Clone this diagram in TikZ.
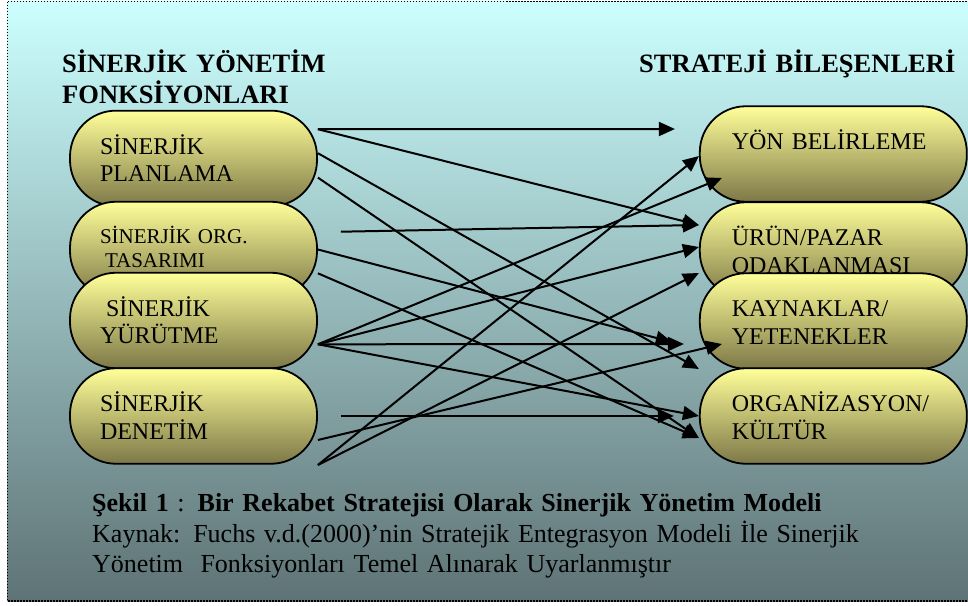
\documentclass[tikz,border=0pt]{standalone}
\usepackage{fontspec}
\setmainfont{Liberation Serif}
\usetikzlibrary{arrows.meta}

\begin{document}
\begin{tikzpicture}[x=1pt,y=-1pt,
  pill/.style={draw=mycolor000000,line width=1.8pt,rounded corners=46pt,top color=mycolorFFFF99,bottom color=mycolor7D7848,minimum height=95.5pt,text height=20pt,text depth=28.5pt,align=left,inner ysep=0pt},
  leftpill/.style={pill,minimum width=247pt,text width=187pt,inner xsep=30pt,font={\fontsize{24}{27.5}\selectfont}},
  rightpill/.style={pill,minimum width=267pt,text width=203pt,inner xsep=32pt,font={\fontsize{24}{27.5}\selectfont}},
  heading/.style={anchor=base west,inner sep=0pt,text width=330pt,align=left,font={\fontsize{26.5}{30.6}\selectfont\bfseries}},
  link/.style={draw=mycolor000000,line width=2pt,-{Triangle[length=16pt,width=14pt]}}]
\definecolor{mycolor000000}{rgb}{0,0,0}
\definecolor{mycolorCCFFFF}{rgb}{0.8,1,1}
\definecolor{mycolor5E7475}{rgb}{0.37,0.45,0.46}
\definecolor{mycolorFFFF99}{rgb}{1,1,0.6}
\definecolor{mycolor7D7848}{rgb}{0.49,0.47,0.28}
\useasboundingbox (0,0) rectangle (968,605);
\begin{scope}
\path [top color=mycolorCCFFFF,bottom color=mycolor5E7475] (7.5,1.5) rectangle (990,601);
\draw [draw=mycolor000000,line width=1.5pt,dash pattern=on 1.5pt off 1.5pt] (7.5,1.5) rectangle (990,601);
\end{scope}
% headings
\node [heading] (funcs) at (62,72.7) {SİNERJİK YÖNETİM\\FONKSİYONLARI};
\node [heading] (parts) at (639,72.7) {STRATEJİ BİLEŞENLERİ};
% left column
\node [leftpill] (plan) at (193.5,158.4) {SİNERJİK\\PLANLAMA};
\node [leftpill,font={\fontsize{21}{24.4}\selectfont},text depth=32.3pt] (org) at (193.5,249.5) {SİNERJİK ORG.\\\hspace*{5pt}TASARIMI};
\node [leftpill] (yur) at (193.5,320.5) {\hspace*{6pt}SİNERJİK\\YÜRÜTME};
\node [leftpill] (den) at (193.5,416) {SİNERJİK\\DENETİM};
% right column
\node [rightpill] (yon) at (833.3,154) {YÖN BELİRLEME};
\node [rightpill] (uru) at (833.3,250) {ÜRÜN/PAZAR\\ODAKLANMASI};
\node [rightpill] (kay) at (833.3,321) {KAYNAKLAR/\\YETENEKLER};
\node [rightpill] (orga) at (833.3,416) {ORGANİZASYON/\\KÜLTÜR};
% links
\draw [link] ([yshift=29.2pt]plan.east) -- ([xshift=-24pt,yshift=25pt]yon.west);
\draw [link] ([yshift=29.2pt]plan.east) -- ([yshift=25pt]uru.west);
\draw [link] ([yshift=5.2pt]plan.east) -- ([yshift=-48pt]kay.west);
\draw [link] ([yshift=-19.2pt]plan.east) -- ([yshift=-22pt]orga.west);
\draw [link] ([xshift=23pt,yshift=17.8pt]org.east) -- ([yshift=25pt]uru.west);
\draw [link] (org.east) -- ([xshift=-27pt,yshift=-21pt]kay.west);
\draw [link] ([yshift=-23.8pt]org.east) -- ([yshift=-22pt]orga.west);
\draw [link] ([yshift=-23.8pt]yur.east) -- ([xshift=23pt,yshift=-24pt]yon.west);
\draw [link] ([yshift=-23.8pt]yur.east) -- ([yshift=3pt]uru.west);
\draw [link] ([yshift=-23.8pt]yur.east) -- ([xshift=-15pt,yshift=-23pt]kay.west);
\draw [link] ([yshift=-23.8pt]yur.east) -- (orga.west);
\draw [link] ([xshift=23pt]den.east) -- ([xshift=-25pt]orga.west);
\draw [link] ([yshift=-24pt]den.east) -- ([xshift=23pt,yshift=-23pt]kay.west);
\draw [link] ([yshift=-49pt]den.east) -- ([yshift=-2pt]yon.west);
\draw [link] ([yshift=-49pt]den.east) -- ([yshift=-23pt]uru.west);
% caption
\node [anchor=base west,inner sep=0pt,text width=870pt,align=left,font={\fontsize{26}{30.5}\selectfont}] (cap) at (92,511.7) {\textbf{Şekil 1} : \textbf{Bir Rekabet Stratejisi Olarak Sinerjik Yönetim Modeli}\\Kaynak: Fuchs v.d.(2000)’nin Stratejik Entegrasyon Modeli İle Sinerjik\\Yönetim~ Fonksiyonları Temel Alınarak Uyarlanmıştır};
\end{tikzpicture}
\end{document}
